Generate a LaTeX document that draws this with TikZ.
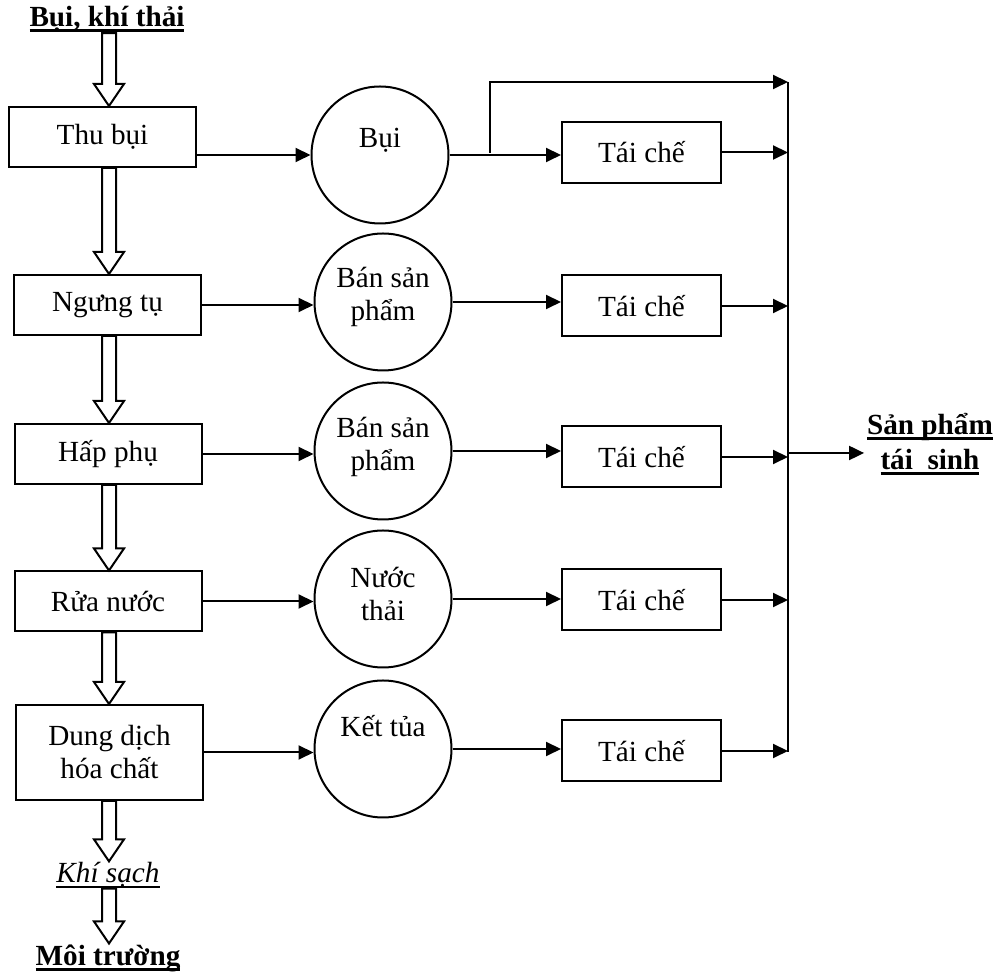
\documentclass[tikz,border=0pt]{standalone}
\usepackage{fontspec}
\setmainfont{Liberation Serif}
\usetikzlibrary{arrows.meta,calc}
\newcommand{\fsz}{\fontsize{14.6}{16.5}\selectfont}
\newcommand{\myul}[2][1pt]{\leavevmode\setbox0\hbox{#2}\rlap{\vrule width \wd0 height -1.6pt depth \dimexpr1.6pt+#1\relax}\box0}
\def\hax{54.5pt}
\newcommand{\hollowarr}[2]{%
  \draw[hollow] let \p1=(#1), \p2=(#2) in
   (\hax-3.5pt,\y1) -- (\hax-3.5pt,\y2+11pt) -- (\hax-7.5pt,\y2+11pt) -- (\hax,\y2)
   -- (\hax+7.5pt,\y2+11pt) -- (\hax+3.5pt,\y2+11pt) -- (\hax+3.5pt,\y1) -- cycle;}
\begin{document}
\begin{tikzpicture}[x=0.5pt,y=-0.5pt,line width=1pt,
  box/.style={draw,rectangle,minimum width=93.5pt,minimum height=30pt,inner sep=0pt,align=center,font=\fsz},
  tbox/.style={draw,rectangle,minimum width=79.5pt,minimum height=30.5pt,inner sep=0pt,font=\fsz},
  circ/.style={draw,circle,minimum size=68.5pt,inner sep=0pt},
  txt/.style={inner sep=0pt,align=center,font=\fsz},
  arr/.style={-{Triangle[length=7.5pt,width=7pt]}},
  hollow/.style={draw,fill=white,line join=miter}]
\useasboundingbox (0,0) rectangle (998,977);

% left column
\node[txt,font=\fsz\bfseries] (title) at (107,19) {\myul[1.4pt]{Bụi, khí thải}};
\node[box] (thu) at (102.5,137) {Thu bụi};
\node[box] (ngung) at (107.5,305) {Ngưng tụ};
\node[box] (hap) at (108,454) {Hấp phụ};
\node[box] (rua) at (108,601.5) {Rửa nước};
\node[box,minimum height=47.5pt] (dung) at (109.5,752.5) {Dung dịch\\hóa chất};
\node[txt,font=\fsz\itshape] (khi) at (108,875) {\myul[0.9pt]{Khí sạch}};
\node[txt,font=\fsz\bfseries] (moi) at (108,958) {\myul[1.4pt]{Môi trường}};

\hollowarr{title.south}{thu.north}
\hollowarr{thu.south}{ngung.north}
\hollowarr{ngung.south}{hap.north}
\hollowarr{hap.south}{rua.north}
\hollowarr{rua.south}{dung.north}
\hollowarr{dung.south}{khi.north}
\hollowarr{khi.south}{moi.north}

% circles
\node[circ] (c1) at (380,155) {};
\node[txt] (c1t) at (380,140) {Bụi};
\node[circ] (c2) at (383,302) {};
\node[txt] (c2t) at (383,297) {Bán sản\\phẩm};
\node[circ] (c3) at (383,451) {};
\node[txt] (c3t) at (383,447) {Bán sản\\phẩm};
\node[circ] (c4) at (383,599) {};
\node[txt] (c4t) at (383,594) {Nước\\thải};
\node[circ] (c5) at (383,749) {};
\node[txt] (c5t) at (383,726) {Kết tủa};

% recycle boxes
\node[tbox] (t1) at (641.5,152.5) {Tái chế};
\node[tbox] (t2) at (641.5,306) {Tái chế};
\node[tbox] (t3) at (641.5,457) {Tái chế};
\node[tbox] (t4) at (641.5,600) {Tái chế};
\node[tbox] (t5) at (641.5,751) {Tái chế};

% collector
\coordinate (ctop) at (788,82);
\coordinate (cbot) at (788,752);
\coordinate (cmid) at (788,453);
\coordinate (br) at (490,153);
\node[txt,font=\fsz\bfseries] (sp) at (930,444) {\myul[1.4pt]{Sản phẩm}\\[1pt]\myul[1.4pt]{tái\ \ sinh}};

% connectors left -> circles
\draw[arr] (c1.west -| thu.east) -- (c1.west);
\draw[arr] (ngung.east) -- (ngung.east -| c2.west);
\draw[arr] (hap.east) -- (hap.east -| c3.west);
\draw[arr] (rua.east) -- (rua.east -| c4.west);
\draw[arr] (dung.east) -- (dung.east -| c5.west);

% circles -> recycle
\draw[arr] (c1.east) -- (c1.east -| t1.west);
\draw[arr] (br) |- (ctop);
\draw[arr] (c2.east) -- (c2.east -| t2.west);
\draw[arr] (c3.east) -- (c3.east -| t3.west);
\draw[arr] (c4.east) -- (c4.east -| t4.west);
\draw[arr] (c5.east) -- (c5.east -| t5.west);

% recycle -> collector
\draw[arr] (t1.east) -- (t1.east -| ctop);
\draw[arr] (t2.east) -- (t2.east -| ctop);
\draw[arr] (t3.east) -- (t3.east -| ctop);
\draw[arr] (t4.east) -- (t4.east -| ctop);
\draw[arr] (t5.east) -- (t5.east -| ctop);
\draw (ctop) -- (cbot);
\draw[arr] (cmid) -- ($(cmid -| sp.west)+(-2,0)$);
\end{tikzpicture}
\end{document}
